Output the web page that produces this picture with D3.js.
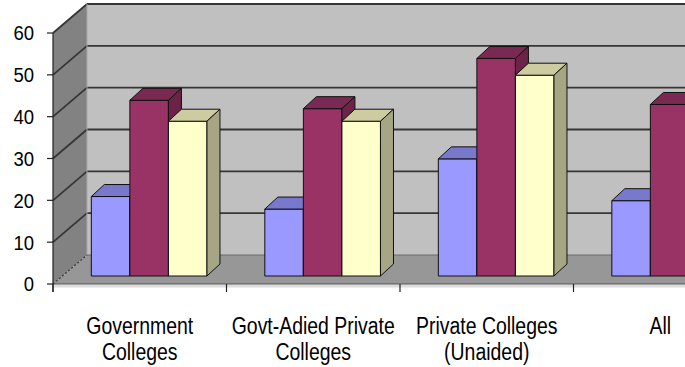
<!DOCTYPE html>
<html>
<head>
<meta charset="utf-8">
<script src="https://cdn.jsdelivr.net/npm/d3@7"></script>
<style>
  body { margin: 0; background: #fff; }
  svg { display: block; }
  text { font-family: "Liberation Sans", Arial, sans-serif; fill: #000; }
</style>
</head>
<body>
<svg id="chart" width="685" height="367"></svg>
<script>
// chart values
var categories = [["Government", "Colleges"], ["Govt-Adied Private", "Colleges"], ["Private Colleges", "(Unaided)"], ["All"]];
var blueVals = [19, 16, 28, 18];
var maroonVals = [42, 40, 52, 41];
var yellowVals = [37, 37, 48, 37];
var yTicks = [0, 10, 20, 30, 40, 50, 60];

var seriesColors = [
  { front: "#9999FF", top: "#7878CC", side: "#6A6AB2" },
  { front: "#993366", top: "#7A2952", side: "#6B2447" },
  { front: "#FFFFCC", top: "#CCCCA0", side: "#A6A685" }
];

var svg = d3.select("#chart");

var left = 53, step = 173.5;
var depth = { dx: 34, dy: -29 };      // floor / wall depth
var barOff = { dx: 9.4, dy: -8 };     // where the bars front plane sits
var barDepth = { dx: 13, dy: -12 };

var x = d3.scaleBand().domain(d3.range(categories.length)).range([left, left + step * categories.length]);
var xs = d3.scaleBand().domain([0, 1, 2]).range([0, x.bandwidth()]).paddingOuter(0.75);
var y = d3.scaleLinear().domain([0, 60]).range([284, 33]);
var right = left + step * categories.length;

// walls
svg.append("rect")
  .attr("x", left + depth.dx).attr("y", y(60) + depth.dy)
  .attr("width", right - left).attr("height", y(0) - y(60))
  .attr("fill", "#C0C0C0");

svg.append("polygon")
  .attr("points", [[left, y(60)], [left + depth.dx, y(60) + depth.dy], [left + depth.dx, y(0) + depth.dy], [left, y(0)]].join(" "))
  .attr("fill", "#828282");

svg.append("polygon")
  .attr("points", [[left, y(0)], [left + depth.dx, y(0) + depth.dy], [right + depth.dx, y(0) + depth.dy], [right, y(0)]].join(" "))
  .attr("fill", "#979797");

// gridlines on back + side wall
var grid = svg.append("g").attr("stroke", "#363636").attr("stroke-width", 1.8).attr("fill", "none");
grid.selectAll("line.back")
  .data(yTicks.filter(function(d) { return d > 0; }))
  .enter().append("line")
    .attr("class", "back")
    .attr("x1", left + depth.dx).attr("x2", right + depth.dx)
    .attr("y1", function(d) { return y(d) + depth.dy; })
    .attr("y2", function(d) { return y(d) + depth.dy; });
grid.selectAll("line.side")
  .data(yTicks.filter(function(d) { return d > 0; }))
  .enter().append("line")
    .attr("class", "side")
    .attr("x1", left).attr("y1", function(d) { return y(d); })
    .attr("x2", left + depth.dx).attr("y2", function(d) { return y(d) + depth.dy; });

svg.append("line")
  .attr("x1", left + depth.dx).attr("x2", right + depth.dx)
  .attr("y1", y(0) + depth.dy).attr("y2", y(0) + depth.dy)
  .attr("stroke", "#6a6a6a").attr("stroke-width", 1);
svg.append("line")
  .attr("x1", left + depth.dx).attr("x2", left + depth.dx)
  .attr("y1", y(60) + depth.dy).attr("y2", y(0) + depth.dy)
  .attr("stroke", "#a8a8a8").attr("stroke-width", 1);
svg.append("line")
  .attr("x1", left).attr("y1", y(0))
  .attr("x2", left + depth.dx).attr("y2", y(0) + depth.dy)
  .attr("stroke", "#333").attr("stroke-width", 1.2).attr("stroke-dasharray", "2,2");

// floor front edge
svg.append("line")
  .attr("x1", left).attr("x2", right).attr("y1", y(0) + 2).attr("y2", y(0) + 2)
  .attr("stroke", "#dcdcdc").attr("stroke-width", 3);
svg.append("line")
  .attr("x1", left).attr("x2", right).attr("y1", y(0)).attr("y2", y(0))
  .attr("stroke", "#555").attr("stroke-width", 1.2);

// bars
var rows = [];
categories.forEach(function(c, i) {
  [blueVals, maroonVals, yellowVals].forEach(function(vals, j) {
    rows.push({ cat: i, s: j, value: vals[i] });
  });
});

var bar = svg.selectAll("g.bar")
  .data(rows)
  .enter().append("g")
    .attr("class", "bar")
    .attr("stroke", "#111").attr("stroke-width", 1).attr("stroke-linejoin", "round");

function bx(d) { return x(d.cat) + xs(d.s) + barOff.dx; }
function by(v) { return y(v) + barOff.dy; }
var w = xs.bandwidth();

bar.append("rect")
  .attr("x", bx)
  .attr("y", function(d) { return by(d.value); })
  .attr("width", w)
  .attr("height", function(d) { return by(0) - by(d.value); })
  .attr("fill", function(d) { return seriesColors[d.s].front; });

bar.append("polygon")
  .attr("points", function(d) {
    var x0 = bx(d), t = by(d.value);
    return [[x0, t], [x0 + barDepth.dx, t + barDepth.dy], [x0 + w + barDepth.dx, t + barDepth.dy], [x0 + w, t]].join(" ");
  })
  .attr("fill", function(d) { return seriesColors[d.s].top; });

bar.append("polygon")
  .attr("points", function(d) {
    var x0 = bx(d) + w, t = by(d.value), b = by(0);
    return [[x0, t], [x0 + barDepth.dx, t + barDepth.dy], [x0 + barDepth.dx, b + barDepth.dy], [x0, b]].join(" ");
  })
  .attr("fill", function(d) { return seriesColors[d.s].side; });

// y axis
var yAxis = svg.append("g");
yAxis.append("line")
  .attr("x1", left).attr("x2", left).attr("y1", y(60)).attr("y2", y(0) + 8)
  .attr("stroke", "#222").attr("stroke-width", 1.2);
yAxis.selectAll("line.tick")
  .data(yTicks)
  .enter().append("line")
    .attr("class", "tick")
    .attr("x1", left - 6).attr("x2", left)
    .attr("y1", function(d) { return y(d); }).attr("y2", function(d) { return y(d); })
    .attr("stroke", "#222").attr("stroke-width", 1.2);
yAxis.selectAll("text")
  .data(yTicks)
  .enter().append("text")
    .attr("transform", function(d) { return "translate(34," + y(d) + ") scale(0.95,1.05)"; })
    .attr("dy", "0.36em")
    .attr("text-anchor", "end")
    .style("font-size", "19.5px")
    .text(function(d) { return d; });

// x axis ticks + labels
svg.selectAll("line.xtick")
  .data(d3.range(categories.length + 1))
  .enter().append("line")
    .attr("class", "xtick")
    .attr("x1", function(i) { return left + i * step; })
    .attr("x2", function(i) { return left + i * step; })
    .attr("y1", y(0)).attr("y2", y(0) + 8)
    .attr("stroke", "#222").attr("stroke-width", 1.2);

// narrow-looking labels: regular face squeezed sideways
var labels = svg.selectAll("text.cat")
  .data(categories)
  .enter().append("text")
    .attr("class", "cat")
    .attr("text-anchor", "middle")
    .attr("transform", function(d, i) { return "translate(" + (x(i) + x.bandwidth() / 2) + ",0) scale(0.81,1)"; })
    .style("font-size", "24px");
labels.selectAll("tspan")
  .data(function(d) { return d; })
  .enter().append("tspan")
    .attr("x", 0)
    .attr("y", function(d, k) { return 334 + k * 26.5; })
    .text(function(d) { return d; });
</script>
</body>
</html>
